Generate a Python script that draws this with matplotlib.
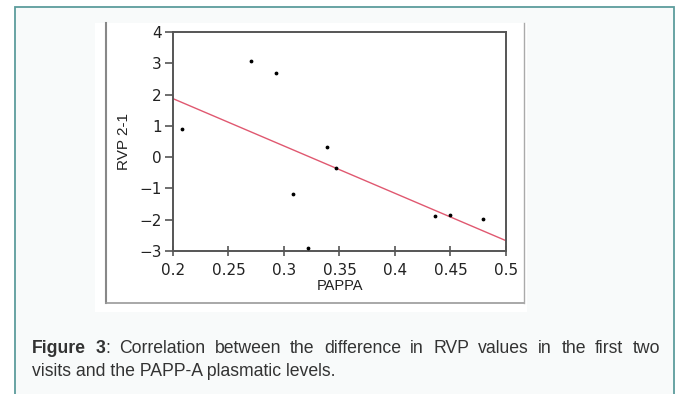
import matplotlib.pyplot as plt
from matplotlib.patches import Rectangle
from matplotlib.lines import Line2D

# data
pappa = [0.208, 0.270, 0.293, 0.308, 0.322, 0.339, 0.347, 0.436, 0.450, 0.479]
rvp = [0.91, 3.06, 2.70, -1.18, -2.91, 0.31, -0.34, -1.89, -1.84, -1.97]

# regression line ends
fit_x = [0.2, 0.5]
fit_y = [1.87, -2.67]

x_ticks = [0.2, 0.25, 0.3, 0.35, 0.4, 0.45, 0.5]
x_labels = ["0.2", "0.25", "0.3", "0.35", "0.4", "0.45", "0.5"]
y_ticks = [-3, -2, -1, 0, 1, 2, 3, 4]

caption_line1 = "Correlation between the difference in RVP values in the first two"
caption_line2 = "visits and the PAPP-A plasmatic levels."

W, H = 681, 394
fig = plt.figure(figsize=(W / 100, H / 100), dpi=100)
fig.patch.set_facecolor("white")

# background layer in pixel coords
bg = fig.add_axes([0, 0, 1, 1])
bg.set_xlim(0, W)
bg.set_ylim(H, 0)
bg.axis("off")
bg.add_patch(Rectangle((15, 7), 659, 400, facecolor="#f8fafa",
                       edgecolor="#5c9c9c", linewidth=1.3))
bg.add_patch(Rectangle((95, 23), 432, 289, facecolor="white", edgecolor="none"))
bg.add_line(Line2D([106, 106], [23, 303], color="#888888", lw=1.5))
bg.add_line(Line2D([106, 524], [303, 303], color="#999999", lw=1.2))
bg.add_line(Line2D([524, 524], [23, 303], color="#aaaaaa", lw=1.0))

# caption, first line justified
cap_font = dict(family="Liberation Sans", fontsize=12.7, color="#333333")
left, right = 32, 660
renderer = fig.canvas.get_renderer()

words = [[("Figure", "bold")], [("3", "bold"), (":", "normal")]]
words += [[(w, "normal")] for w in caption_line1.split()]

placed = []
total = 0
for word in words:
    pieces = []
    wsum = 0
    for txt, wt in word:
        t = bg.text(0, 353, txt, fontweight=wt, va="baseline", ha="left", **cap_font)
        wd = t.get_window_extent(renderer).width
        pieces.append((t, wsum))
        wsum += wd
    placed.append(pieces)
    total += wsum
gap = (right - left - total) / (len(words) - 1)
x = left
for pieces in placed:
    wsum = 0
    for t, off in pieces:
        t.set_x(x + off)
        wsum = off + t.get_window_extent(renderer).width
    x += wsum + gap

bg.text(left, 376, caption_line2, va="baseline", ha="left", **cap_font)

# the chart
ax = fig.add_axes([173 / W, 1 - 251 / H, 333 / W, 219 / H])
ax.plot(fit_x, fit_y, color="#e05870", lw=1.0)
ax.scatter(pappa, rvp, s=3, color="black", zorder=3)
ax.set_xlim(0.2, 0.5)
ax.set_ylim(-3, 4)
ax.set_xticks(x_ticks)
ax.set_xticklabels(x_labels)
ax.set_yticks(y_ticks)
ax.set_yticklabels([str(v).replace("-", "\u2212") for v in y_ticks])
for s in ax.spines.values():
    s.set_color("#555555")
    s.set_linewidth(1.4)
ax.tick_params(axis="y", direction="out", length=6, width=1.2, color="#555555",
               labelsize=11, labelcolor="#222222", pad=2)
ax.tick_params(axis="x", direction="inout", length=7, width=1.2, color="#555555",
               labelsize=11, labelcolor="#222222", pad=5)
ax.set_xlabel("PAPPA", fontsize=10.5, family="Liberation Sans", color="#222222", labelpad=1)
ax.set_ylabel("RVP 2-1", fontsize=11, family="Liberation Sans", color="#222222", labelpad=6)

fig.savefig("out.png", dpi=100)
